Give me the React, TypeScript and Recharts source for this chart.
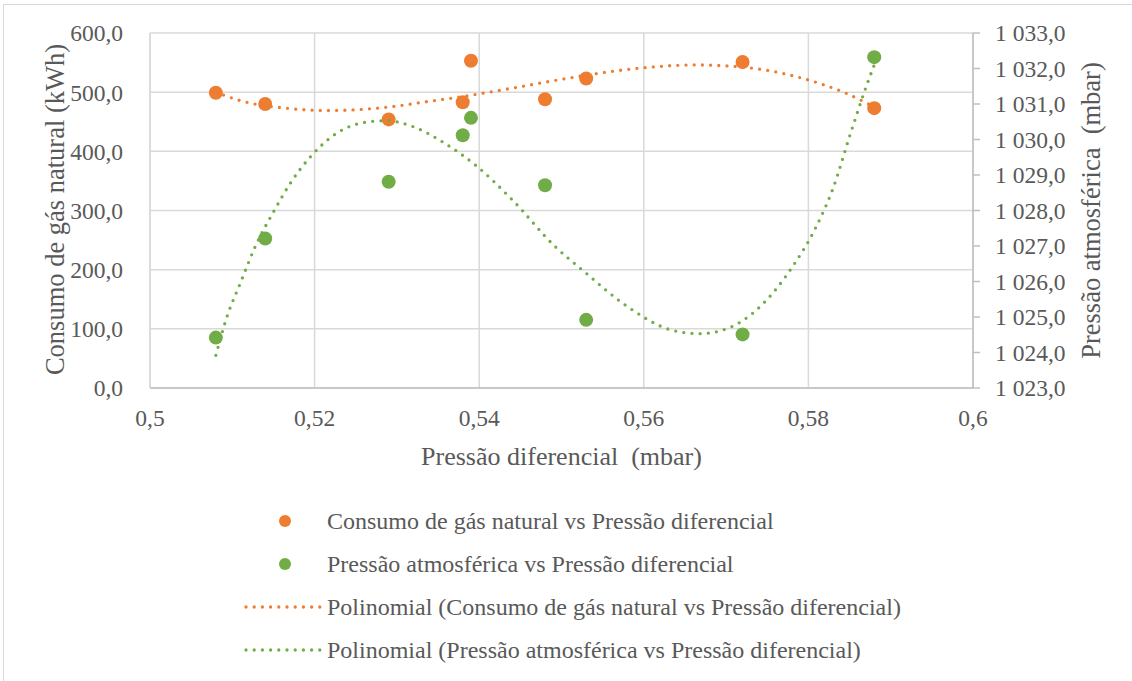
import React from 'react';
import { ComposedChart, Scatter, XAxis, YAxis, CartesianGrid } from 'recharts';

const pressaoDiferencial = [0.508, 0.514, 0.529, 0.538, 0.539, 0.548, 0.553, 0.572, 0.588];
const consumoGas = [499, 480, 454, 483, 553, 488, 523, 551, 473];
const pressaoAtm = [1024.42, 1027.21, 1028.81, 1030.12, 1030.61, 1028.71, 1024.92, 1024.51, 1032.32];

const consumoTrendX = [0.508, 0.5109, 0.5168, 0.5217, 0.5277, 0.5337, 0.5395, 0.5453, 0.5493, 0.5591, 0.5661, 0.5711, 0.579, 0.5846, 0.5875, 0.588];
const consumoTrendY = [500, 486, 472.5, 469, 473, 484, 496, 510, 520, 540, 546, 543.5, 524.5, 498, 479, 476];

const atmTrendX = [0.508, 0.5094, 0.5109, 0.5128, 0.5151, 0.5172, 0.5196, 0.5227, 0.5263, 0.5287, 0.5322, 0.5357, 0.5398, 0.5441, 0.5492, 0.5526, 0.5581, 0.5634, 0.5668, 0.5703, 0.5743, 0.5781, 0.5807, 0.583, 0.5852, 0.5871, 0.588];
const atmTrendY = [1023.92, 1025.04, 1025.91, 1026.99, 1028.0, 1028.82, 1029.54, 1030.18, 1030.49, 1030.53, 1030.34, 1029.91, 1029.23, 1028.28, 1026.99, 1026.31, 1025.28, 1024.63, 1024.53, 1024.69, 1025.33, 1026.43, 1027.43, 1028.63, 1030.23, 1031.54, 1032.1];

const xTicks = [0.5, 0.52, 0.54, 0.56, 0.58, 0.6];
const leftTicks = [0, 100, 200, 300, 400, 500, 600];
const rightTicks = [1023, 1024, 1025, 1026, 1027, 1028, 1029, 1030, 1031, 1032, 1033];

const ORANGE = '#ED7D31';
const GREEN = '#70AD47';
const TEXT = '#595959';
const GRID = '#d9d9d9';
const FONT = '"Liberation Serif", "Times New Roman", serif';

const zip = (xs: number[], ys: number[]) => xs.map((x, i) => ({ x, y: ys[i] }));

const consumoData = zip(pressaoDiferencial, consumoGas);
const atmData = zip(pressaoDiferencial, pressaoAtm);
const consumoTrend = zip(consumoTrendX, consumoTrendY);
const atmTrend = zip(atmTrendX, atmTrendY);

const fmtX = (v: number) => String(v).replace('.', ',');
const fmtLeft = (v: number) => v.toFixed(1).replace('.', ',');
const fmtRight = (v: number) => {
  const s = v.toFixed(1).replace('.', ',');
  const [int, dec] = s.split(',');
  return int.replace(/\B(?=(\d{3})+(?!\d))/g, ' ') + ',' + dec;
};

const tickStyle = { fill: TEXT, fontSize: 23.5, fontFamily: FONT };

const Dot = ({ cx, cy, fill }: any) => <circle cx={cx} cy={cy} r={7} fill={fill} />;
const NoShape = () => <g />;

const LeftLabel = ({ viewBox }: any) => {
  const cy = viewBox.y + viewBox.height / 2 - 1;
  const cx = 55;
  return (
    <text x={cx} y={cy} transform={`rotate(-90 ${cx} ${cy})`} textAnchor="middle" dominantBaseline="central" fill={TEXT} fontSize={26.5} fontFamily={FONT}>
      Consumo de gás natural (kWh)
    </text>
  );
};

const RightLabel = ({ viewBox }: any) => {
  const cy = viewBox.y + viewBox.height / 2;
  const cx = 1091;
  return (
    <text x={cx} y={cy} transform={`rotate(-90 ${cx} ${cy})`} textAnchor="middle" dominantBaseline="central" fill={TEXT} fontSize={26.5} fontFamily={FONT} style={{ whiteSpace: 'pre' }}>
      {'Pressão atmosférica  (mbar)'}
    </text>
  );
};

const BottomLabel = ({ viewBox }: any) => {
  const cx = viewBox.x + viewBox.width / 2;
  return (
    <text x={cx} y={456} textAnchor="middle" dominantBaseline="central" fill={TEXT} fontSize={26} fontFamily={FONT} style={{ whiteSpace: 'pre' }}>
      {'Pressão diferencial  (mbar)'}
    </text>
  );
};

const legendItems = [
  { kind: 'dot', color: ORANGE, text: 'Consumo de gás natural vs Pressão diferencial' },
  { kind: 'dot', color: GREEN, text: 'Pressão atmosférica vs Pressão diferencial' },
  { kind: 'line', color: ORANGE, text: 'Polinomial (Consumo de gás natural vs Pressão diferencial)' },
  { kind: 'line', color: GREEN, text: 'Polinomial (Pressão atmosférica vs Pressão diferencial)' },
];

const CustomLegend = () => (
  <div style={{ position: 'absolute', left: 0, top: 0, width: 1132, height: 681, pointerEvents: 'none' }}>
    {legendItems.map((it, i) => {
      const y = 521 + i * 43;
      return (
        <div key={i}>
          <svg style={{ position: 'absolute', left: 240, top: y - 10 }} width={86} height={20}>
            {it.kind === 'dot' ? (
              <circle cx={45} cy={10} r={6} fill={it.color} />
            ) : (
              <line x1={6} y1={10} x2={82} y2={10} stroke={it.color} strokeWidth={3.3} strokeDasharray="0 8.2" strokeLinecap="round" />
            )}
          </svg>
          <div style={{ position: 'absolute', left: 327, top: y - 16, height: 32, lineHeight: '32px', fontFamily: FONT, fontSize: 24, color: TEXT, whiteSpace: 'pre' }}>
            {it.text}
          </div>
        </div>
      );
    })}
  </div>
);

export default function App() {
  return (
    <div style={{ position: 'absolute', left: 0, top: 0, width: 1132, height: 681, background: '#fff', overflow: 'hidden' }}>
      <div style={{ position: 'absolute', left: 3, top: 4, width: 1200, height: 800, borderLeft: `1.5px solid ${GRID}`, borderTop: `1.5px solid ${GRID}` }} />
      <ComposedChart width={1132} height={681} margin={{ top: 33, right: 0, bottom: 213, left: 0 }}>
        <CartesianGrid yAxisId="left" stroke={GRID} strokeWidth={1.5} />
        <XAxis
          dataKey="x"
          type="number"
          domain={[0.5, 0.6]}
          ticks={xTicks}
          tickFormatter={fmtX}
          allowDataOverflow
          tickLine={false}
          axisLine={{ stroke: '#bfbfbf', strokeWidth: 1.5 }}
          tick={tickStyle}
          tickMargin={15}
          height={80}
          label={<BottomLabel />}
        />
        <YAxis
          yAxisId="left"
          dataKey="y"
          type="number"
          domain={[0, 600]}
          ticks={leftTicks}
          tickFormatter={fmtLeft}
          tickLine={false}
          axisLine={{ stroke: GRID, strokeWidth: 1.5 }}
          tick={tickStyle}
          tickMargin={21}
          width={150}
          label={<LeftLabel />}
        />
        <YAxis
          yAxisId="right"
          orientation="right"
          dataKey="y"
          type="number"
          domain={[1023, 1033]}
          ticks={rightTicks}
          tickFormatter={fmtRight}
          tickLine={{ stroke: '#bfbfbf', strokeWidth: 1.5 }}
          tickSize={7}
          axisLine={{ stroke: '#bfbfbf', strokeWidth: 1.5 }}
          tick={tickStyle}
          tickMargin={15}
          width={159}
          label={<RightLabel />}
        />
        <Scatter yAxisId="left" data={consumoData} dataKey="y" fill={ORANGE} shape={<Dot fill={ORANGE} />} isAnimationActive={false} />
        <Scatter yAxisId="right" data={atmData} dataKey="y" fill={GREEN} shape={<Dot fill={GREEN} />} isAnimationActive={false} />
        <Scatter
          yAxisId="left"
          data={consumoTrend}
          dataKey="y"
          shape={<NoShape />}
          line={{ stroke: ORANGE, strokeWidth: 3.3, strokeDasharray: '0 8.2', strokeLinecap: 'round' }}
          lineJointType="monotoneX"
          isAnimationActive={false}
        />
        <Scatter
          yAxisId="right"
          data={atmTrend}
          dataKey="y"
          shape={<NoShape />}
          line={{ stroke: GREEN, strokeWidth: 3.3, strokeDasharray: '0 8.2', strokeLinecap: 'round' }}
          lineJointType="monotoneX"
          isAnimationActive={false}
        />
      </ComposedChart>
      <CustomLegend />
    </div>
  );
}
